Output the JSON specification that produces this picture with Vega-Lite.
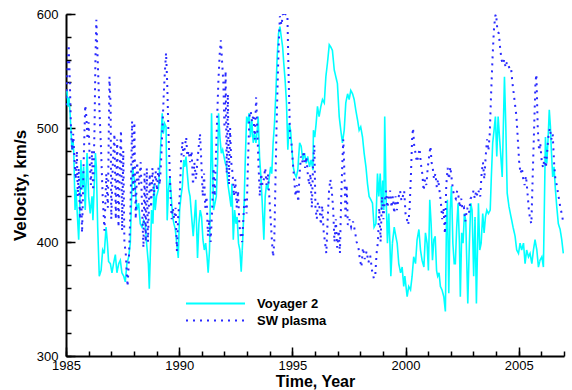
{
  "$schema": "https://vega.github.io/schema/vega-lite/v6.json",
  "width": 498,
  "height": 342,
  "autosize": "none",
  "padding": {"left": 66, "top": 14, "right": 8, "bottom": 34},
  "config": {
    "view": {"stroke": null},
    "font": "Liberation Sans",
    "axis": {"grid": false, "domainColor": "black", "tickColor": "black", "labelColor": "black", "titleColor": "black", "labelFont": "Liberation Sans", "titleFont": "Liberation Sans", "domainWidth": 2, "tickWidth": 1.5, "labelFlush": false, "labelOverlap": false}
  },
  "datasets": {
    "voy": [
      {"year":1985.04,"velocity":533},{"year":1985.09,"velocity":519},{"year":1985.13,"velocity":527},{"year":1985.18,"velocity":513},{"year":1985.22,"velocity":498},{"year":1985.26,"velocity":481},{"year":1985.31,"velocity":490},{"year":1985.35,"velocity":475},{"year":1985.40,"velocity":428},{"year":1985.44,"velocity":446},{"year":1985.49,"velocity":428},{"year":1985.56,"velocity":402},{"year":1985.62,"velocity":440},{"year":1985.66,"velocity":472},{"year":1985.72,"velocity":446},{"year":1985.78,"velocity":466},{"year":1985.85,"velocity":428},{"year":1985.93,"velocity":478},{"year":1986.00,"velocity":440},{"year":1986.07,"velocity":425},{"year":1986.15,"velocity":440},{"year":1986.19,"velocity":419},{"year":1986.30,"velocity":478},{"year":1986.34,"velocity":466},{"year":1986.40,"velocity":413},{"year":1986.47,"velocity":370},{"year":1986.55,"velocity":375},{"year":1986.62,"velocity":393},{"year":1986.69,"velocity":390},{"year":1986.77,"velocity":413},{"year":1986.83,"velocity":399},{"year":1986.88,"velocity":383},{"year":1986.96,"velocity":381},{"year":1987.03,"velocity":373},{"year":1987.10,"velocity":381},{"year":1987.18,"velocity":389},{"year":1987.25,"velocity":373},{"year":1987.33,"velocity":381},{"year":1987.40,"velocity":384},{"year":1987.47,"velocity":373},{"year":1987.55,"velocity":370},{"year":1987.62,"velocity":365},{"year":1987.69,"velocity":381},{"year":1987.77,"velocity":387},{"year":1987.84,"velocity":399},{"year":1987.88,"velocity":428},{"year":1987.94,"velocity":466},{"year":1988.00,"velocity":457},{"year":1988.06,"velocity":446},{"year":1988.13,"velocity":428},{"year":1988.21,"velocity":434},{"year":1988.28,"velocity":416},{"year":1988.36,"velocity":413},{"year":1988.43,"velocity":419},{"year":1988.50,"velocity":416},{"year":1988.56,"velocity":399},{"year":1988.64,"velocity":381},{"year":1988.68,"velocity":359},{"year":1988.74,"velocity":399},{"year":1988.78,"velocity":428},{"year":1988.84,"velocity":416},{"year":1988.89,"velocity":451},{"year":1988.94,"velocity":428},{"year":1989.00,"velocity":440},{"year":1989.08,"velocity":446},{"year":1989.14,"velocity":466},{"year":1989.19,"velocity":487},{"year":1989.25,"velocity":513},{"year":1989.30,"velocity":495},{"year":1989.36,"velocity":504},{"year":1989.42,"velocity":501},{"year":1989.47,"velocity":419},{"year":1989.53,"velocity":446},{"year":1989.59,"velocity":457},{"year":1989.65,"velocity":440},{"year":1989.71,"velocity":422},{"year":1989.77,"velocity":416},{"year":1989.83,"velocity":411},{"year":1989.89,"velocity":399},{"year":1989.96,"velocity":386},{"year":1990.02,"velocity":428},{"year":1990.08,"velocity":440},{"year":1990.14,"velocity":449},{"year":1990.20,"velocity":472},{"year":1990.25,"velocity":466},{"year":1990.30,"velocity":475},{"year":1990.36,"velocity":460},{"year":1990.42,"velocity":446},{"year":1990.48,"velocity":440},{"year":1990.55,"velocity":422},{"year":1990.62,"velocity":405},{"year":1990.68,"velocity":422},{"year":1990.73,"velocity":437},{"year":1990.77,"velocity":413},{"year":1990.81,"velocity":386},{"year":1990.87,"velocity":416},{"year":1990.93,"velocity":428},{"year":1990.99,"velocity":422},{"year":1991.05,"velocity":402},{"year":1991.11,"velocity":393},{"year":1991.17,"velocity":399},{"year":1991.23,"velocity":387},{"year":1991.28,"velocity":373},{"year":1991.34,"velocity":393},{"year":1991.39,"velocity":457},{"year":1991.43,"velocity":513},{"year":1991.48,"velocity":463},{"year":1991.52,"velocity":428},{"year":1991.58,"velocity":434},{"year":1991.64,"velocity":440},{"year":1991.70,"velocity":472},{"year":1991.74,"velocity":513},{"year":1991.80,"velocity":492},{"year":1991.86,"velocity":478},{"year":1991.92,"velocity":481},{"year":1991.98,"velocity":475},{"year":1992.04,"velocity":469},{"year":1992.09,"velocity":466},{"year":1992.15,"velocity":451},{"year":1992.23,"velocity":440},{"year":1992.29,"velocity":431},{"year":1992.33,"velocity":451},{"year":1992.39,"velocity":402},{"year":1992.45,"velocity":428},{"year":1992.51,"velocity":416},{"year":1992.56,"velocity":422},{"year":1992.62,"velocity":399},{"year":1992.68,"velocity":393},{"year":1992.74,"velocity":374},{"year":1992.80,"velocity":399},{"year":1992.86,"velocity":428},{"year":1992.92,"velocity":472},{"year":1992.98,"velocity":510},{"year":1993.04,"velocity":504},{"year":1993.09,"velocity":513},{"year":1993.15,"velocity":492},{"year":1993.21,"velocity":507},{"year":1993.27,"velocity":487},{"year":1993.33,"velocity":495},{"year":1993.39,"velocity":487},{"year":1993.45,"velocity":498},{"year":1993.49,"velocity":510},{"year":1993.55,"velocity":475},{"year":1993.61,"velocity":457},{"year":1993.67,"velocity":434},{"year":1993.74,"velocity":402},{"year":1993.80,"velocity":440},{"year":1993.86,"velocity":451},{"year":1993.92,"velocity":446},{"year":1993.98,"velocity":457},{"year":1994.04,"velocity":466},{"year":1994.09,"velocity":460},{"year":1994.15,"velocity":487},{"year":1994.21,"velocity":504},{"year":1994.27,"velocity":530},{"year":1994.33,"velocity":563},{"year":1994.39,"velocity":583},{"year":1994.45,"velocity":589},{"year":1994.51,"velocity":580},{"year":1994.57,"velocity":571},{"year":1994.62,"velocity":557},{"year":1994.68,"velocity":542},{"year":1994.74,"velocity":522},{"year":1994.80,"velocity":481},{"year":1994.86,"velocity":504},{"year":1994.92,"velocity":498},{"year":1994.98,"velocity":481},{"year":1995.04,"velocity":466},{"year":1995.10,"velocity":460},{"year":1995.17,"velocity":457},{"year":1995.24,"velocity":463},{"year":1995.32,"velocity":487},{"year":1995.39,"velocity":484},{"year":1995.46,"velocity":472},{"year":1995.54,"velocity":478},{"year":1995.61,"velocity":469},{"year":1995.68,"velocity":475},{"year":1995.76,"velocity":466},{"year":1995.83,"velocity":472},{"year":1995.91,"velocity":463},{"year":1995.93,"velocity":498},{"year":1995.99,"velocity":492},{"year":1996.05,"velocity":504},{"year":1996.11,"velocity":519},{"year":1996.18,"velocity":510},{"year":1996.26,"velocity":519},{"year":1996.33,"velocity":525},{"year":1996.41,"velocity":522},{"year":1996.48,"velocity":545},{"year":1996.55,"velocity":557},{"year":1996.63,"velocity":573},{"year":1996.70,"velocity":571},{"year":1996.77,"velocity":568},{"year":1996.85,"velocity":551},{"year":1996.92,"velocity":545},{"year":1996.99,"velocity":539},{"year":1997.07,"velocity":510},{"year":1997.14,"velocity":498},{"year":1997.21,"velocity":487},{"year":1997.29,"velocity":498},{"year":1997.36,"velocity":522},{"year":1997.44,"velocity":530},{"year":1997.51,"velocity":525},{"year":1997.58,"velocity":533},{"year":1997.66,"velocity":530},{"year":1997.73,"velocity":525},{"year":1997.80,"velocity":516},{"year":1997.88,"velocity":507},{"year":1997.95,"velocity":498},{"year":1998.02,"velocity":501},{"year":1998.10,"velocity":492},{"year":1998.17,"velocity":478},{"year":1998.25,"velocity":466},{"year":1998.32,"velocity":451},{"year":1998.39,"velocity":440},{"year":1998.47,"velocity":437},{"year":1998.54,"velocity":434},{"year":1998.61,"velocity":413},{"year":1998.69,"velocity":416},{"year":1998.76,"velocity":460},{"year":1998.82,"velocity":440},{"year":1998.88,"velocity":460},{"year":1998.94,"velocity":428},{"year":1998.99,"velocity":454},{"year":1999.04,"velocity":428},{"year":1999.08,"velocity":510},{"year":1999.14,"velocity":440},{"year":1999.20,"velocity":399},{"year":1999.26,"velocity":425},{"year":1999.31,"velocity":399},{"year":1999.35,"velocity":370},{"year":1999.42,"velocity":399},{"year":1999.50,"velocity":413},{"year":1999.57,"velocity":405},{"year":1999.63,"velocity":399},{"year":1999.70,"velocity":381},{"year":1999.78,"velocity":373},{"year":1999.85,"velocity":378},{"year":1999.92,"velocity":361},{"year":1999.97,"velocity":370},{"year":2000.07,"velocity":352},{"year":2000.14,"velocity":361},{"year":2000.22,"velocity":358},{"year":2000.29,"velocity":370},{"year":2000.36,"velocity":387},{"year":2000.44,"velocity":381},{"year":2000.51,"velocity":402},{"year":2000.59,"velocity":411},{"year":2000.66,"velocity":393},{"year":2000.73,"velocity":384},{"year":2000.81,"velocity":378},{"year":2000.88,"velocity":408},{"year":2000.95,"velocity":399},{"year":2001.01,"velocity":375},{"year":2001.07,"velocity":437},{"year":2001.13,"velocity":416},{"year":2001.19,"velocity":384},{"year":2001.25,"velocity":402},{"year":2001.31,"velocity":405},{"year":2001.37,"velocity":375},{"year":2001.42,"velocity":370},{"year":2001.48,"velocity":373},{"year":2001.54,"velocity":361},{"year":2001.61,"velocity":358},{"year":2001.69,"velocity":352},{"year":2001.76,"velocity":339},{"year":2001.81,"velocity":422},{"year":2001.85,"velocity":437},{"year":2001.91,"velocity":355},{"year":2001.97,"velocity":428},{"year":2002.03,"velocity":449},{"year":2002.09,"velocity":399},{"year":2002.15,"velocity":381},{"year":2002.20,"velocity":381},{"year":2002.26,"velocity":413},{"year":2002.32,"velocity":434},{"year":2002.38,"velocity":399},{"year":2002.42,"velocity":352},{"year":2002.48,"velocity":408},{"year":2002.54,"velocity":399},{"year":2002.60,"velocity":425},{"year":2002.66,"velocity":419},{"year":2002.75,"velocity":346},{"year":2002.82,"velocity":399},{"year":2002.88,"velocity":434},{"year":2002.94,"velocity":428},{"year":2003.01,"velocity":370},{"year":2003.07,"velocity":422},{"year":2003.13,"velocity":346},{"year":2003.22,"velocity":434},{"year":2003.28,"velocity":393},{"year":2003.34,"velocity":399},{"year":2003.41,"velocity":425},{"year":2003.47,"velocity":408},{"year":2003.53,"velocity":422},{"year":2003.59,"velocity":428},{"year":2003.66,"velocity":425},{"year":2003.74,"velocity":428},{"year":2003.79,"velocity":457},{"year":2003.85,"velocity":487},{"year":2003.91,"velocity":498},{"year":2003.97,"velocity":510},{"year":2004.03,"velocity":475},{"year":2004.09,"velocity":510},{"year":2004.15,"velocity":492},{"year":2004.21,"velocity":475},{"year":2004.27,"velocity":457},{"year":2004.32,"velocity":501},{"year":2004.37,"velocity":545},{"year":2004.43,"velocity":501},{"year":2004.49,"velocity":443},{"year":2004.57,"velocity":431},{"year":2004.66,"velocity":422},{"year":2004.75,"velocity":413},{"year":2004.84,"velocity":405},{"year":2004.91,"velocity":393},{"year":2004.99,"velocity":390},{"year":2005.06,"velocity":399},{"year":2005.13,"velocity":393},{"year":2005.21,"velocity":399},{"year":2005.28,"velocity":381},{"year":2005.35,"velocity":393},{"year":2005.43,"velocity":387},{"year":2005.50,"velocity":390},{"year":2005.58,"velocity":381},{"year":2005.65,"velocity":393},{"year":2005.72,"velocity":402},{"year":2005.80,"velocity":393},{"year":2005.87,"velocity":378},{"year":2005.94,"velocity":384},{"year":2006.02,"velocity":387},{"year":2006.09,"velocity":378},{"year":2006.13,"velocity":428},{"year":2006.18,"velocity":492},{"year":2006.24,"velocity":469},{"year":2006.30,"velocity":492},{"year":2006.35,"velocity":516},{"year":2006.40,"velocity":501},{"year":2006.44,"velocity":481},{"year":2006.50,"velocity":457},{"year":2006.56,"velocity":466},{"year":2006.62,"velocity":446},{"year":2006.68,"velocity":431},{"year":2006.75,"velocity":416},{"year":2006.83,"velocity":411},{"year":2006.90,"velocity":402},{"year":2006.97,"velocity":390}
    ],
    "sw": [
      {"year":1985.00,"velocity":520},{"year":1985.05,"velocity":545},{"year":1985.12,"velocity":573},{"year":1985.17,"velocity":540},{"year":1985.22,"velocity":500},{"year":1985.27,"velocity":480},{"year":1985.32,"velocity":495},{"year":1985.38,"velocity":470},{"year":1985.43,"velocity":455},{"year":1985.48,"velocity":480},{"year":1985.52,"velocity":440},{"year":1985.56,"velocity":465},{"year":1985.62,"velocity":420},{"year":1985.66,"velocity":450},{"year":1985.71,"velocity":408},{"year":1985.78,"velocity":470},{"year":1985.85,"velocity":520},{"year":1985.90,"velocity":510},{"year":1985.95,"velocity":490},{"year":1986.00,"velocity":505},{"year":1986.05,"velocity":470},{"year":1986.10,"velocity":450},{"year":1986.15,"velocity":480},{"year":1986.20,"velocity":445},{"year":1986.26,"velocity":500},{"year":1986.30,"velocity":560},{"year":1986.34,"velocity":595},{"year":1986.40,"velocity":560},{"year":1986.47,"velocity":520},{"year":1986.55,"velocity":480},{"year":1986.62,"velocity":440},{"year":1986.70,"velocity":410},{"year":1986.78,"velocity":460},{"year":1986.85,"velocity":430},{"year":1986.92,"velocity":545},{"year":1986.97,"velocity":520},{"year":1987.00,"velocity":420},{"year":1987.07,"velocity":470},{"year":1987.14,"velocity":495},{"year":1987.20,"velocity":420},{"year":1987.26,"velocity":490},{"year":1987.32,"velocity":413},{"year":1987.38,"velocity":470},{"year":1987.43,"velocity":498},{"year":1987.48,"velocity":410},{"year":1987.53,"velocity":480},{"year":1987.58,"velocity":400},{"year":1987.64,"velocity":390},{"year":1987.68,"velocity":375},{"year":1987.72,"velocity":361},{"year":1987.77,"velocity":380},{"year":1987.85,"velocity":430},{"year":1987.92,"velocity":506},{"year":1987.97,"velocity":440},{"year":1988.02,"velocity":505},{"year":1988.08,"velocity":420},{"year":1988.14,"velocity":470},{"year":1988.22,"velocity":450},{"year":1988.30,"velocity":470},{"year":1988.36,"velocity":430},{"year":1988.42,"velocity":395},{"year":1988.47,"velocity":460},{"year":1988.52,"velocity":400},{"year":1988.57,"velocity":465},{"year":1988.62,"velocity":400},{"year":1988.70,"velocity":460},{"year":1988.76,"velocity":430},{"year":1988.82,"velocity":465},{"year":1988.88,"velocity":440},{"year":1988.96,"velocity":462},{"year":1989.02,"velocity":445},{"year":1989.08,"velocity":465},{"year":1989.14,"velocity":450},{"year":1989.20,"velocity":470},{"year":1989.26,"velocity":500},{"year":1989.32,"velocity":530},{"year":1989.37,"velocity":550},{"year":1989.42,"velocity":566},{"year":1989.47,"velocity":540},{"year":1989.52,"velocity":500},{"year":1989.57,"velocity":470},{"year":1989.62,"velocity":440},{"year":1989.67,"velocity":420},{"year":1989.72,"velocity":430},{"year":1989.78,"velocity":420},{"year":1989.84,"velocity":430},{"year":1989.90,"velocity":392},{"year":1989.95,"velocity":420},{"year":1990.02,"velocity":440},{"year":1990.08,"velocity":470},{"year":1990.14,"velocity":488},{"year":1990.20,"velocity":475},{"year":1990.26,"velocity":485},{"year":1990.31,"velocity":492},{"year":1990.36,"velocity":475},{"year":1990.42,"velocity":480},{"year":1990.48,"velocity":470},{"year":1990.55,"velocity":480},{"year":1990.61,"velocity":450},{"year":1990.67,"velocity":470},{"year":1990.74,"velocity":455},{"year":1990.80,"velocity":470},{"year":1990.87,"velocity":485},{"year":1990.92,"velocity":495},{"year":1990.98,"velocity":470},{"year":1991.04,"velocity":440},{"year":1991.10,"velocity":460},{"year":1991.15,"velocity":430},{"year":1991.21,"velocity":440},{"year":1991.27,"velocity":405},{"year":1991.33,"velocity":420},{"year":1991.39,"velocity":400},{"year":1991.46,"velocity":430},{"year":1991.52,"velocity":465},{"year":1991.57,"velocity":440},{"year":1991.63,"velocity":480},{"year":1991.68,"velocity":510},{"year":1991.73,"velocity":540},{"year":1991.79,"velocity":565},{"year":1991.84,"velocity":577},{"year":1991.89,"velocity":560},{"year":1991.95,"velocity":540},{"year":1992.00,"velocity":500},{"year":1992.05,"velocity":550},{"year":1992.10,"velocity":460},{"year":1992.15,"velocity":530},{"year":1992.20,"velocity":450},{"year":1992.25,"velocity":500},{"year":1992.30,"velocity":470},{"year":1992.36,"velocity":460},{"year":1992.42,"velocity":440},{"year":1992.48,"velocity":455},{"year":1992.54,"velocity":430},{"year":1992.60,"velocity":445},{"year":1992.66,"velocity":415},{"year":1992.72,"velocity":405},{"year":1992.78,"velocity":400},{"year":1992.86,"velocity":430},{"year":1992.92,"velocity":440},{"year":1992.98,"velocity":425},{"year":1993.04,"velocity":470},{"year":1993.10,"velocity":510},{"year":1993.16,"velocity":515},{"year":1993.22,"velocity":505},{"year":1993.28,"velocity":512},{"year":1993.34,"velocity":490},{"year":1993.40,"velocity":527},{"year":1993.45,"velocity":500},{"year":1993.50,"velocity":470},{"year":1993.56,"velocity":440},{"year":1993.62,"velocity":460},{"year":1993.68,"velocity":450},{"year":1993.74,"velocity":455},{"year":1993.80,"velocity":465},{"year":1993.86,"velocity":450},{"year":1993.92,"velocity":460},{"year":1993.98,"velocity":440},{"year":1994.04,"velocity":420},{"year":1994.10,"velocity":400},{"year":1994.15,"velocity":387},{"year":1994.20,"velocity":400},{"year":1994.25,"velocity":450},{"year":1994.30,"velocity":500},{"year":1994.35,"velocity":540},{"year":1994.40,"velocity":575},{"year":1994.45,"velocity":598},{"year":1994.52,"velocity":590},{"year":1994.58,"velocity":600},{"year":1994.64,"velocity":597},{"year":1994.70,"velocity":600},{"year":1994.78,"velocity":600},{"year":1994.84,"velocity":540},{"year":1994.90,"velocity":490},{"year":1994.96,"velocity":487},{"year":1995.02,"velocity":470},{"year":1995.08,"velocity":455},{"year":1995.14,"velocity":440},{"year":1995.20,"velocity":450},{"year":1995.26,"velocity":435},{"year":1995.32,"velocity":460},{"year":1995.38,"velocity":475},{"year":1995.44,"velocity":470},{"year":1995.50,"velocity":480},{"year":1995.56,"velocity":465},{"year":1995.62,"velocity":475},{"year":1995.68,"velocity":460},{"year":1995.74,"velocity":450},{"year":1995.80,"velocity":460},{"year":1995.86,"velocity":430},{"year":1995.92,"velocity":470},{"year":1995.97,"velocity":485},{"year":1996.02,"velocity":430},{"year":1996.08,"velocity":420},{"year":1996.13,"velocity":435},{"year":1996.20,"velocity":430},{"year":1996.26,"velocity":415},{"year":1996.32,"velocity":432},{"year":1996.38,"velocity":410},{"year":1996.44,"velocity":400},{"year":1996.50,"velocity":390},{"year":1996.56,"velocity":420},{"year":1996.62,"velocity":445},{"year":1996.68,"velocity":455},{"year":1996.74,"velocity":445},{"year":1996.80,"velocity":430},{"year":1996.86,"velocity":400},{"year":1996.92,"velocity":420},{"year":1996.98,"velocity":395},{"year":1997.05,"velocity":410},{"year":1997.10,"velocity":390},{"year":1997.16,"velocity":440},{"year":1997.21,"velocity":470},{"year":1997.25,"velocity":490},{"year":1997.30,"velocity":460},{"year":1997.35,"velocity":420},{"year":1997.40,"velocity":450},{"year":1997.45,"velocity":415},{"year":1997.52,"velocity":420},{"year":1997.60,"velocity":413},{"year":1997.68,"velocity":418},{"year":1997.76,"velocity":410},{"year":1997.84,"velocity":400},{"year":1997.92,"velocity":395},{"year":1997.98,"velocity":385},{"year":1998.05,"velocity":378},{"year":1998.12,"velocity":395},{"year":1998.20,"velocity":385},{"year":1998.28,"velocity":392},{"year":1998.36,"velocity":382},{"year":1998.44,"velocity":388},{"year":1998.52,"velocity":375},{"year":1998.60,"velocity":368},{"year":1998.66,"velocity":370},{"year":1998.72,"velocity":390},{"year":1998.78,"velocity":400},{"year":1998.84,"velocity":430},{"year":1998.90,"velocity":400},{"year":1998.96,"velocity":440},{"year":1999.02,"velocity":420},{"year":1999.08,"velocity":435},{"year":1999.14,"velocity":445},{"year":1999.20,"velocity":430},{"year":1999.26,"velocity":440},{"year":1999.32,"velocity":445},{"year":1999.38,"velocity":430},{"year":1999.44,"velocity":440},{"year":1999.50,"velocity":425},{"year":1999.56,"velocity":440},{"year":1999.62,"velocity":428},{"year":1999.70,"velocity":440},{"year":1999.76,"velocity":445},{"year":1999.82,"velocity":436},{"year":1999.88,"velocity":440},{"year":1999.94,"velocity":445},{"year":2000.00,"velocity":425},{"year":2000.06,"velocity":420},{"year":2000.12,"velocity":415},{"year":2000.18,"velocity":430},{"year":2000.24,"velocity":460},{"year":2000.29,"velocity":490},{"year":2000.33,"velocity":500},{"year":2000.38,"velocity":485},{"year":2000.44,"velocity":478},{"year":2000.50,"velocity":470},{"year":2000.56,"velocity":475},{"year":2000.62,"velocity":482},{"year":2000.68,"velocity":468},{"year":2000.74,"velocity":460},{"year":2000.80,"velocity":445},{"year":2000.86,"velocity":455},{"year":2000.92,"velocity":450},{"year":2000.98,"velocity":465},{"year":2001.04,"velocity":475},{"year":2001.10,"velocity":484},{"year":2001.15,"velocity":470},{"year":2001.20,"velocity":465},{"year":2001.26,"velocity":455},{"year":2001.32,"velocity":460},{"year":2001.38,"velocity":448},{"year":2001.44,"velocity":455},{"year":2001.50,"velocity":445},{"year":2001.56,"velocity":435},{"year":2001.62,"velocity":420},{"year":2001.68,"velocity":430},{"year":2001.74,"velocity":407},{"year":2001.80,"velocity":450},{"year":2001.86,"velocity":465},{"year":2001.92,"velocity":455},{"year":2001.98,"velocity":466},{"year":2002.04,"velocity":455},{"year":2002.10,"velocity":445},{"year":2002.16,"velocity":440},{"year":2002.22,"velocity":438},{"year":2002.28,"velocity":445},{"year":2002.34,"velocity":440},{"year":2002.40,"velocity":430},{"year":2002.46,"velocity":438},{"year":2002.52,"velocity":428},{"year":2002.58,"velocity":430},{"year":2002.64,"velocity":418},{"year":2002.72,"velocity":430},{"year":2002.80,"velocity":425},{"year":2002.87,"velocity":438},{"year":2002.94,"velocity":440},{"year":2003.00,"velocity":445},{"year":2003.06,"velocity":438},{"year":2003.12,"velocity":445},{"year":2003.18,"velocity":440},{"year":2003.24,"velocity":445},{"year":2003.30,"velocity":440},{"year":2003.36,"velocity":460},{"year":2003.42,"velocity":470},{"year":2003.48,"velocity":455},{"year":2003.54,"velocity":475},{"year":2003.60,"velocity":490},{"year":2003.66,"velocity":480},{"year":2003.72,"velocity":495},{"year":2003.78,"velocity":530},{"year":2003.84,"velocity":560},{"year":2003.90,"velocity":585},{"year":2003.96,"velocity":598},{"year":2004.00,"velocity":600},{"year":2004.06,"velocity":585},{"year":2004.12,"velocity":583},{"year":2004.18,"velocity":570},{"year":2004.24,"velocity":560},{"year":2004.30,"velocity":556},{"year":2004.36,"velocity":560},{"year":2004.42,"velocity":553},{"year":2004.48,"velocity":558},{"year":2004.54,"velocity":555},{"year":2004.60,"velocity":552},{"year":2004.66,"velocity":553},{"year":2004.72,"velocity":540},{"year":2004.78,"velocity":530},{"year":2004.84,"velocity":520},{"year":2004.90,"velocity":510},{"year":2004.96,"velocity":490},{"year":2005.02,"velocity":470},{"year":2005.08,"velocity":460},{"year":2005.14,"velocity":465},{"year":2005.20,"velocity":455},{"year":2005.26,"velocity":450},{"year":2005.32,"velocity":458},{"year":2005.38,"velocity":445},{"year":2005.44,"velocity":430},{"year":2005.50,"velocity":420},{"year":2005.56,"velocity":416},{"year":2005.62,"velocity":460},{"year":2005.68,"velocity":500},{"year":2005.74,"velocity":540},{"year":2005.78,"velocity":547},{"year":2005.84,"velocity":500},{"year":2005.90,"velocity":480},{"year":2005.95,"velocity":487},{"year":2006.02,"velocity":470},{"year":2006.08,"velocity":465},{"year":2006.14,"velocity":475},{"year":2006.20,"velocity":465},{"year":2006.26,"velocity":480},{"year":2006.32,"velocity":495},{"year":2006.38,"velocity":500},{"year":2006.44,"velocity":490},{"year":2006.50,"velocity":495},{"year":2006.56,"velocity":470},{"year":2006.62,"velocity":455},{"year":2006.68,"velocity":450},{"year":2006.76,"velocity":440},{"year":2006.84,"velocity":430},{"year":2006.90,"velocity":425},{"year":2006.96,"velocity":418}
    ]
  },
  "layer": [
    {
      "data": {"name": "voy"},
      "mark": {"type": "line", "strokeWidth": 1.6, "clip": true},
      "encoding": {
        "x": {"field": "year", "type": "quantitative", "scale": {"domain": [1985, 2007], "nice": false, "zero": false},
          "axis": {"orient": "bottom", "values": [1985, 1990, 1995, 2000, 2005], "format": "d", "tickSize": -9, "labelFontSize": 13, "labelPadding": 12, "title": "Time, Year", "titleFontSize": 16, "titleFontWeight": "bold", "titlePadding": 1}},
        "y": {"field": "velocity", "type": "quantitative", "scale": {"domain": [300, 600], "nice": false, "zero": false},
          "axis": {"orient": "left", "values": [300, 400, 500, 600], "tickSize": -9, "labelFontSize": 13, "labelPadding": 17, "title": "Velocity, km/s", "titleFontSize": 17, "titleFontWeight": "bold", "titlePadding": 7}},
        "color": {"datum": "Voyager 2", "type": "nominal", "scale": {"domain": ["Voyager 2", "SW plasma"], "range": ["#00ffff", "#2a2aff"]},
          "legend": {"orient": "none", "legendX": 119, "legendY": 281, "title": null, "symbolType": "stroke", "symbolSize": 3481, "symbolStrokeWidth": 2, "labelFontSize": 13, "labelFontWeight": "bold", "labelColor": "black", "labelOffset": 11, "clipHeight": 17, "rowPadding": 0, "padding": 0, "symbolOffset": 0}},
        "strokeDash": {"datum": "Voyager 2", "type": "nominal", "scale": {"domain": ["Voyager 2", "SW plasma"], "range": [[1, 0], [2, 5]]},
          "legend": {"orient": "none", "legendX": 119, "legendY": 281, "title": null, "symbolType": "stroke", "symbolSize": 3481, "symbolStrokeWidth": 2, "labelFontSize": 13, "labelFontWeight": "bold", "labelColor": "black", "labelOffset": 11, "clipHeight": 17, "rowPadding": 0, "padding": 0, "symbolOffset": 0}}
      }
    },
    {
      "data": {"name": "sw"},
      "mark": {"type": "line", "strokeWidth": 2, "clip": true},
      "encoding": {
        "x": {"field": "year", "type": "quantitative", "axis": null},
        "y": {"field": "velocity", "type": "quantitative", "axis": null},
        "color": {"datum": "SW plasma", "type": "nominal"},
        "strokeDash": {"datum": "SW plasma", "type": "nominal"}
      }
    },
    {
      "data": {"name": "voy"},
      "mark": {"type": "line", "opacity": 0},
      "encoding": {
        "x": {"field": "year", "type": "quantitative",
          "axis": {"orient": "bottom", "values": [1985,1986,1987,1988,1989,1990,1991,1992,1993,1994,1995,1996,1997,1998,1999,2000,2001,2002,2003,2004,2005,2006,2007], "labels": false, "domain": false, "tickSize": -5, "title": null}},
        "y": {"field": "velocity", "type": "quantitative",
          "axis": {"orient": "left", "values": [300,320,340,360,380,400,420,440,460,480,500,520,540,560,580,600], "labels": false, "domain": false, "tickSize": -5, "title": null}}
      }
    }
  ],
  "resolve": {"axis": {"x": "independent", "y": "independent"}}
}
